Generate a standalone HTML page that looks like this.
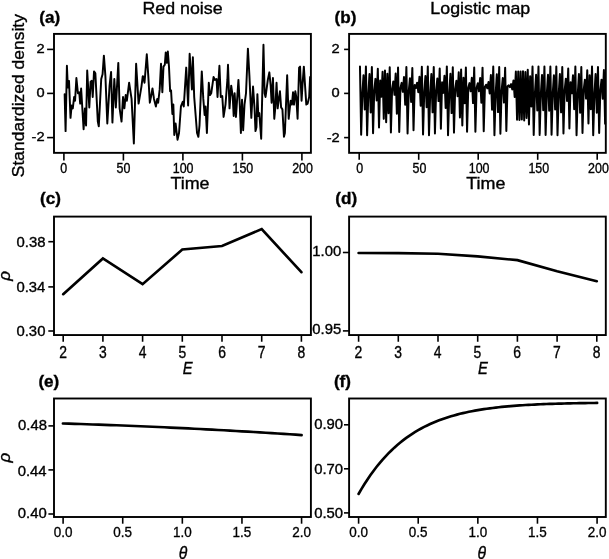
<!DOCTYPE html>
<html><head><meta charset="utf-8"><title>Figure</title>
<style>html,body{margin:0;padding:0;background:#fff}svg{display:block}text{fill:#000;stroke:#000;stroke-width:0.35px}</style>
</head><body>
<svg width="609" height="559" viewBox="0 0 609 559">
<rect width="609" height="559" fill="#fff"/>
<rect x="54.0" y="33.9" width="256.90" height="118.95" fill="none" stroke="#000" stroke-width="1.9"/>
<line x1="47.10" y1="49.40" x2="54.0" y2="49.40" stroke="#000" stroke-width="1.6"/>
<text transform="translate(44.60,52.90) scale(1.2,1)" font-size="12.2" text-anchor="end" font-weight="normal" font-style="normal" font-family='"Liberation Sans", sans-serif'>2</text>
<line x1="47.10" y1="93.40" x2="54.0" y2="93.40" stroke="#000" stroke-width="1.6"/>
<text transform="translate(44.60,96.90) scale(1.2,1)" font-size="12.2" text-anchor="end" font-weight="normal" font-style="normal" font-family='"Liberation Sans", sans-serif'>0</text>
<line x1="47.10" y1="137.60" x2="54.0" y2="137.60" stroke="#000" stroke-width="1.6"/>
<text transform="translate(44.60,141.10) scale(1.2,1)" font-size="12.2" text-anchor="end" font-weight="normal" font-style="normal" font-family='"Liberation Sans", sans-serif'>-2</text>
<line x1="63.90" y1="152.85" x2="63.90" y2="160.55" stroke="#000" stroke-width="1.6"/>
<text transform="translate(63.80,172.80) scale(0.884,1)" font-size="14.1" text-anchor="middle" font-weight="normal" font-style="normal" font-family='"Liberation Sans", sans-serif'>0</text>
<line x1="123.40" y1="152.85" x2="123.40" y2="160.55" stroke="#000" stroke-width="1.6"/>
<text transform="translate(123.48,172.80) scale(0.884,1)" font-size="14.1" text-anchor="middle" font-weight="normal" font-style="normal" font-family='"Liberation Sans", sans-serif'>50</text>
<line x1="182.90" y1="152.85" x2="182.90" y2="160.55" stroke="#000" stroke-width="1.6"/>
<text transform="translate(183.16,172.80) scale(0.884,1)" font-size="14.1" text-anchor="middle" font-weight="normal" font-style="normal" font-family='"Liberation Sans", sans-serif'>100</text>
<line x1="242.40" y1="152.85" x2="242.40" y2="160.55" stroke="#000" stroke-width="1.6"/>
<text transform="translate(242.84,172.80) scale(0.884,1)" font-size="14.1" text-anchor="middle" font-weight="normal" font-style="normal" font-family='"Liberation Sans", sans-serif'>150</text>
<line x1="301.90" y1="152.85" x2="301.90" y2="160.55" stroke="#000" stroke-width="1.6"/>
<text transform="translate(302.52,172.80) scale(0.884,1)" font-size="14.1" text-anchor="middle" font-weight="normal" font-style="normal" font-family='"Liberation Sans", sans-serif'>200</text>
<text transform="translate(190.00,188.60) scale(1.14,1)" font-size="15.7" text-anchor="middle" font-weight="normal" font-style="normal" font-family='"Liberation Sans", sans-serif'>Time</text>
<text transform="translate(39.20,23.05) scale(1.02,1)" font-size="16.8" text-anchor="start" font-weight="bold" font-style="normal" font-family='"Liberation Sans", sans-serif'>(a)</text>
<text transform="translate(182.50,13.60) scale(1.12,1)" font-size="15.9" text-anchor="middle" font-weight="normal" font-style="normal" font-family='"Liberation Sans", sans-serif'>Red noise</text>
<polyline points="64.64,94.15 65.58,131.12 66.91,65.70 67.86,87.51 69.00,80.87 70.52,117.85 71.65,105.52 72.79,108.37 74.12,96.99 75.07,100.78 76.39,78.03 77.91,93.20 79.24,92.25 80.19,103.63 81.13,88.46 83.60,129.23 84.93,108.37 86.06,125.43 87.20,70.44 89.29,107.42 90.62,81.82 91.75,80.87 92.70,96.99 94.03,71.39 95.36,73.29 97.82,121.64 98.77,126.38 99.91,104.58 101.23,78.98 102.56,74.24 103.89,55.65 105.41,76.13 107.30,123.54 109.58,85.61 111.09,71.96 112.42,122.59 114.32,78.98 115.84,107.42 118.30,62.86 119.63,108.37 121.52,121.64 123.04,96.99 124.37,108.37 125.70,95.09 126.83,100.78 129.11,82.77 131.57,98.89 133.85,143.45 136.13,63.81 138.59,103.63 141.43,86.56 142.76,76.13 143.00,76.13 144.52,82.77 146.79,54.33 148.31,76.13 149.83,102.68 150.96,96.99 152.48,88.46 154.00,98.89 155.89,106.47 157.22,98.89 158.17,102.68 159.69,89.41 161.01,63.81 162.34,92.25 163.48,66.65 164.81,64.75 165.75,52.43 166.89,62.86 167.84,51.48 168.98,66.65 170.12,91.30 171.06,90.35 172.39,114.06 173.34,104.58 174.29,134.92 175.62,123.54 177.51,139.66 179.03,133.02 180.92,106.47 182.82,101.73 183.77,106.47 186.23,67.60 188.13,105.52 189.65,53.76 191.16,76.13 191.92,89.41 192.87,57.17 194.20,96.99 197.04,133.02 198.37,136.81 199.51,125.43 201.78,71.39 203.30,98.89 204.63,115.01 205.58,106.47 206.90,133.02 208.80,82.77 209.94,95.09 211.26,93.20 213.54,77.08 215.06,79.92 216.57,78.98 217.52,96.99 219.42,65.70 220.75,96.99 222.26,96.04 223.59,116.90 225.49,104.58 227.38,79.92 228.00,64.75 229.52,108.37 231.22,85.61 232.74,96.99 233.69,115.95 234.64,93.20 235.96,116.90 238.43,79.92 239.76,104.58 240.89,133.02 242.03,99.84 243.17,130.18 244.50,104.58 246.01,93.20 247.91,48.64 249.43,76.13 251.32,117.85 253.03,86.56 254.55,108.37 255.50,131.12 256.44,127.33 257.39,94.15 258.34,115.95 259.29,113.11 261.18,138.71 263.46,44.84 264.60,93.20 265.55,96.99 267.82,79.92 269.34,72.34 270.67,85.61 271.61,102.68 272.94,78.03 274.27,118.80 275.41,106.47 276.54,82.77 277.68,108.37 278.82,98.89 279.96,91.30 281.09,107.42 282.42,109.32 283.94,136.81 284.89,133.02 287.16,75.18 288.68,118.80 290.58,100.78 291.90,104.58 293.04,92.25 293.99,104.58 295.32,91.30 296.26,96.99 297.59,118.80 299.11,67.60 300.06,66.65 301.57,100.78 302.52,84.67 303.85,66.65 305.18,87.51 306.31,104.58 307.64,103.63 309.16,96.99 310.11,77.08" fill="none" stroke="#000" stroke-width="1.95" stroke-linejoin="round" stroke-linecap="round"/>
<rect x="349.1" y="33.9" width="256.70" height="118.95" fill="none" stroke="#000" stroke-width="1.9"/>
<line x1="344.10" y1="49.40" x2="349.1" y2="49.40" stroke="#000" stroke-width="1.6"/>
<text transform="translate(339.70,53.40) scale(1.2,1)" font-size="12.2" text-anchor="end" font-weight="normal" font-style="normal" font-family='"Liberation Sans", sans-serif'>2</text>
<line x1="344.10" y1="93.40" x2="349.1" y2="93.40" stroke="#000" stroke-width="1.6"/>
<text transform="translate(339.70,97.40) scale(1.2,1)" font-size="12.2" text-anchor="end" font-weight="normal" font-style="normal" font-family='"Liberation Sans", sans-serif'>0</text>
<line x1="344.10" y1="137.60" x2="349.1" y2="137.60" stroke="#000" stroke-width="1.6"/>
<text transform="translate(339.70,141.60) scale(1.2,1)" font-size="12.2" text-anchor="end" font-weight="normal" font-style="normal" font-family='"Liberation Sans", sans-serif'>-2</text>
<line x1="359.20" y1="152.85" x2="359.20" y2="159.80" stroke="#000" stroke-width="1.6"/>
<text transform="translate(359.70,172.80) scale(0.884,1)" font-size="14.1" text-anchor="middle" font-weight="normal" font-style="normal" font-family='"Liberation Sans", sans-serif'>0</text>
<line x1="418.70" y1="152.85" x2="418.70" y2="159.80" stroke="#000" stroke-width="1.6"/>
<text transform="translate(419.40,172.80) scale(0.884,1)" font-size="14.1" text-anchor="middle" font-weight="normal" font-style="normal" font-family='"Liberation Sans", sans-serif'>50</text>
<line x1="478.20" y1="152.85" x2="478.20" y2="159.80" stroke="#000" stroke-width="1.6"/>
<text transform="translate(479.10,172.80) scale(0.884,1)" font-size="14.1" text-anchor="middle" font-weight="normal" font-style="normal" font-family='"Liberation Sans", sans-serif'>100</text>
<line x1="537.70" y1="152.85" x2="537.70" y2="159.80" stroke="#000" stroke-width="1.6"/>
<text transform="translate(538.80,172.80) scale(0.884,1)" font-size="14.1" text-anchor="middle" font-weight="normal" font-style="normal" font-family='"Liberation Sans", sans-serif'>150</text>
<line x1="597.20" y1="152.85" x2="597.20" y2="159.80" stroke="#000" stroke-width="1.6"/>
<text transform="translate(598.50,172.80) scale(0.884,1)" font-size="14.1" text-anchor="middle" font-weight="normal" font-style="normal" font-family='"Liberation Sans", sans-serif'>200</text>
<text transform="translate(485.80,188.60) scale(1.14,1)" font-size="15.7" text-anchor="middle" font-weight="normal" font-style="normal" font-family='"Liberation Sans", sans-serif'>Time</text>
<text transform="translate(334.50,23.05) scale(1.02,1)" font-size="16.8" text-anchor="start" font-weight="bold" font-style="normal" font-family='"Liberation Sans", sans-serif'>(b)</text>
<text transform="translate(480.30,13.70) scale(1.12,1)" font-size="15.9" text-anchor="middle" font-weight="normal" font-style="normal" font-family='"Liberation Sans", sans-serif'>Logistic map</text>
<polyline points="359.97,66.57 361.16,134.76 362.35,93.41 363.54,75.19 364.73,109.49 365.92,66.42 367.11,135.24 368.30,94.40 369.49,74.07 370.68,112.46 371.87,67.01 373.06,133.33 374.25,90.54 375.44,78.87 376.63,100.47 377.82,68.85 379.01,127.50 380.20,80.56 381.39,96.69 382.58,71.76 383.77,118.85 384.96,70.61 386.15,122.19 387.34,73.76 388.53,113.28 389.72,67.29 390.91,132.41 392.10,88.79 393.29,81.44 394.48,94.82 395.67,73.61 396.86,113.68 398.05,67.45 399.24,131.91 400.43,87.87 401.62,82.88 402.81,91.85 404.00,77.11 405.19,104.67 406.38,66.93 407.57,133.57 408.76,91.03 409.95,78.20 411.14,102.03 412.33,67.98 413.52,130.23 414.71,84.91 415.90,87.97 417.09,82.72 418.28,92.17 419.47,76.69 420.66,105.68 421.85,66.67 423.04,134.41 424.23,92.70 425.42,76.04 426.61,107.32 427.80,66.43 428.99,135.22 430.18,94.36 431.37,74.10 432.56,112.36 433.75,66.98 434.94,133.43 436.13,90.74 437.32,78.60 438.51,101.11 439.70,68.47 440.89,128.68 442.08,82.37 443.27,92.88 444.46,75.81 445.65,107.89 446.84,66.39 448.03,135.34 449.22,94.62 450.41,73.83 451.60,113.10 452.79,67.23 453.98,132.62 455.17,89.20 456.36,80.81 457.55,96.14 458.74,72.27 459.93,117.39 461.12,69.50 462.31,125.51 463.50,77.74 464.69,103.13 465.88,67.48 467.07,131.82 468.26,87.71 469.45,83.13 470.64,91.36 471.83,77.75 473.02,103.12 474.21,67.48 475.40,131.81 476.59,87.68 477.78,83.19 478.97,91.25 480.16,77.90 481.35,102.75 482.54,67.64 483.73,131.30 484.92,86.77 486.11,84.69 487.30,88.37 488.49,82.08 489.68,93.47 490.87,75.12 492.06,109.68 493.25,66.44 494.44,135.18 495.63,94.28 496.82,74.20 498.01,112.11 499.20,66.91 500.39,133.66 501.58,91.20 502.77,77.97 503.96,102.59 505.15,67.71 506.34,131.07 507.53,86.37 508.72,85.38 509.91,87.12 511.10,84.10 512.29,89.48 513.48,80.40 514.67,97.04 515.86,71.44 517.05,119.77 518.24,71.39 519.43,119.93 520.62,71.53 521.81,119.52 523.00,71.17 524.19,120.55 525.38,72.10 526.57,117.88 527.76,69.86 528.95,124.44 530.14,76.36 531.33,106.51 532.52,66.52 533.71,134.91 534.90,93.71 536.09,74.84 537.28,110.40 538.47,66.53 539.66,134.89 540.85,93.67 542.04,74.88 543.23,110.29 544.42,66.51 545.61,134.94 546.80,93.78 547.99,74.76 549.18,110.63 550.37,66.57 551.56,134.77 552.75,93.42 553.94,75.17 555.13,109.54 556.32,66.43 557.51,135.22 558.70,94.37 559.89,74.10 561.08,112.37 562.27,66.98 563.46,133.41 564.65,90.71 565.84,78.63 567.03,101.03 568.22,68.52 569.41,128.54 570.60,82.14 571.79,93.34 572.98,75.27 574.17,109.30 575.36,66.41 576.55,135.29 577.74,94.50 578.93,73.96 580.12,112.75 581.31,67.10 582.50,133.02 583.69,89.96 584.88,79.70 586.07,98.59 587.26,70.16 588.45,123.53 589.64,75.26 590.83,109.32 592.02,66.41 593.21,135.28 594.40,94.49 595.59,73.97 596.78,112.73 597.97,67.10 599.16,133.04 600.35,90.00 601.54,79.64 602.73,98.72 603.92,70.06 605.11,123.82" fill="none" stroke="#000" stroke-width="2.0" stroke-linejoin="round" stroke-linecap="round"/>
<text transform="translate(24.20,95.60) rotate(-90) scale(1.053,1)" font-size="16.6" text-anchor="middle" font-weight="normal" font-style="normal" font-family='"Liberation Sans", sans-serif'>Standardized density</text>
<rect x="54.0" y="216.6" width="256.90" height="118.45" fill="none" stroke="#000" stroke-width="1.9"/>
<line x1="48.30" y1="241.70" x2="54.0" y2="241.70" stroke="#000" stroke-width="1.6"/>
<text transform="translate(45.50,246.80) scale(1.07,1)" font-size="13.9" text-anchor="end" font-weight="normal" font-style="normal" font-family='"Liberation Sans", sans-serif'>0.38</text>
<line x1="48.30" y1="286.90" x2="54.0" y2="286.90" stroke="#000" stroke-width="1.6"/>
<text transform="translate(45.30,291.90) scale(1.07,1)" font-size="13.9" text-anchor="end" font-weight="normal" font-style="normal" font-family='"Liberation Sans", sans-serif'>0.34</text>
<line x1="48.30" y1="331.00" x2="54.0" y2="331.00" stroke="#000" stroke-width="1.6"/>
<text transform="translate(45.40,336.00) scale(1.07,1)" font-size="13.9" text-anchor="end" font-weight="normal" font-style="normal" font-family='"Liberation Sans", sans-serif'>0.30</text>
<line x1="63.20" y1="335.05" x2="63.20" y2="341.75" stroke="#000" stroke-width="1.6"/>
<text transform="translate(63.20,357.60) scale(0.88,1)" font-size="15.8" text-anchor="middle" font-weight="normal" font-style="normal" font-family='"Liberation Sans", sans-serif'>2</text>
<line x1="102.90" y1="335.05" x2="102.90" y2="341.75" stroke="#000" stroke-width="1.6"/>
<text transform="translate(102.90,357.60) scale(0.88,1)" font-size="15.8" text-anchor="middle" font-weight="normal" font-style="normal" font-family='"Liberation Sans", sans-serif'>3</text>
<line x1="142.60" y1="335.05" x2="142.60" y2="341.75" stroke="#000" stroke-width="1.6"/>
<text transform="translate(142.60,357.60) scale(0.88,1)" font-size="15.8" text-anchor="middle" font-weight="normal" font-style="normal" font-family='"Liberation Sans", sans-serif'>4</text>
<line x1="182.30" y1="335.05" x2="182.30" y2="341.75" stroke="#000" stroke-width="1.6"/>
<text transform="translate(182.30,357.60) scale(0.88,1)" font-size="15.8" text-anchor="middle" font-weight="normal" font-style="normal" font-family='"Liberation Sans", sans-serif'>5</text>
<line x1="222.00" y1="335.05" x2="222.00" y2="341.75" stroke="#000" stroke-width="1.6"/>
<text transform="translate(222.00,357.60) scale(0.88,1)" font-size="15.8" text-anchor="middle" font-weight="normal" font-style="normal" font-family='"Liberation Sans", sans-serif'>6</text>
<line x1="261.70" y1="335.05" x2="261.70" y2="341.75" stroke="#000" stroke-width="1.6"/>
<text transform="translate(261.70,357.60) scale(0.88,1)" font-size="15.8" text-anchor="middle" font-weight="normal" font-style="normal" font-family='"Liberation Sans", sans-serif'>7</text>
<line x1="301.40" y1="335.05" x2="301.40" y2="341.75" stroke="#000" stroke-width="1.6"/>
<text transform="translate(301.40,357.60) scale(0.88,1)" font-size="15.8" text-anchor="middle" font-weight="normal" font-style="normal" font-family='"Liberation Sans", sans-serif'>8</text>
<text transform="translate(40.00,203.50) scale(1.02,1)" font-size="16.8" text-anchor="start" font-weight="bold" font-style="normal" font-family='"Liberation Sans", sans-serif'>(c)</text>
<polyline points="63.20,294.22 102.90,258.46 142.60,284.16 182.30,249.52 222.00,245.95 261.70,229.07 301.40,272.21" fill="none" stroke="#000" stroke-width="2.65" stroke-linejoin="miter" stroke-linecap="round"/>
<rect x="349.1" y="216.6" width="256.70" height="118.45" fill="none" stroke="#000" stroke-width="1.9"/>
<line x1="342.90" y1="252.50" x2="349.1" y2="252.50" stroke="#000" stroke-width="1.6"/>
<text transform="translate(341.20,256.30) scale(1.07,1)" font-size="13.9" text-anchor="end" font-weight="normal" font-style="normal" font-family='"Liberation Sans", sans-serif'>1.00</text>
<line x1="342.90" y1="330.90" x2="349.1" y2="330.90" stroke="#000" stroke-width="1.6"/>
<text transform="translate(341.20,334.40) scale(1.07,1)" font-size="13.9" text-anchor="end" font-weight="normal" font-style="normal" font-family='"Liberation Sans", sans-serif'>0.95</text>
<line x1="358.60" y1="335.05" x2="358.60" y2="341.75" stroke="#000" stroke-width="1.6"/>
<text transform="translate(358.30,357.60) scale(0.88,1)" font-size="15.8" text-anchor="middle" font-weight="normal" font-style="normal" font-family='"Liberation Sans", sans-serif'>2</text>
<line x1="398.30" y1="335.05" x2="398.30" y2="341.75" stroke="#000" stroke-width="1.6"/>
<text transform="translate(398.00,357.60) scale(0.88,1)" font-size="15.8" text-anchor="middle" font-weight="normal" font-style="normal" font-family='"Liberation Sans", sans-serif'>3</text>
<line x1="438.00" y1="335.05" x2="438.00" y2="341.75" stroke="#000" stroke-width="1.6"/>
<text transform="translate(437.70,357.60) scale(0.88,1)" font-size="15.8" text-anchor="middle" font-weight="normal" font-style="normal" font-family='"Liberation Sans", sans-serif'>4</text>
<line x1="477.70" y1="335.05" x2="477.70" y2="341.75" stroke="#000" stroke-width="1.6"/>
<text transform="translate(477.40,357.60) scale(0.88,1)" font-size="15.8" text-anchor="middle" font-weight="normal" font-style="normal" font-family='"Liberation Sans", sans-serif'>5</text>
<line x1="517.40" y1="335.05" x2="517.40" y2="341.75" stroke="#000" stroke-width="1.6"/>
<text transform="translate(517.10,357.60) scale(0.88,1)" font-size="15.8" text-anchor="middle" font-weight="normal" font-style="normal" font-family='"Liberation Sans", sans-serif'>6</text>
<line x1="557.10" y1="335.05" x2="557.10" y2="341.75" stroke="#000" stroke-width="1.6"/>
<text transform="translate(556.80,357.60) scale(0.88,1)" font-size="15.8" text-anchor="middle" font-weight="normal" font-style="normal" font-family='"Liberation Sans", sans-serif'>7</text>
<line x1="596.80" y1="335.05" x2="596.80" y2="341.75" stroke="#000" stroke-width="1.6"/>
<text transform="translate(596.50,357.60) scale(0.88,1)" font-size="15.8" text-anchor="middle" font-weight="normal" font-style="normal" font-family='"Liberation Sans", sans-serif'>8</text>
<text transform="translate(335.30,203.50) scale(1.02,1)" font-size="16.8" text-anchor="start" font-weight="bold" font-style="normal" font-family='"Liberation Sans", sans-serif'>(d)</text>
<polyline points="358.60,252.97 398.30,253.13 438.00,253.75 477.70,256.42 517.40,260.18 557.10,271.32 596.80,281.19" fill="none" stroke="#000" stroke-width="2.65" stroke-linejoin="miter" stroke-linecap="round"/>
<text transform="translate(187.60,373.60) scale(0.93,1)" font-size="15.9" text-anchor="middle" font-weight="normal" font-style="italic" font-family='"Liberation Sans", sans-serif'>E</text>
<text transform="translate(482.80,373.60) scale(0.93,1)" font-size="15.9" text-anchor="middle" font-weight="normal" font-style="italic" font-family='"Liberation Sans", sans-serif'>E</text>
<text transform="translate(9.60,275.80) rotate(-90)" font-size="17" text-anchor="middle" font-weight="normal" font-style="italic" font-family='"Liberation Sans", sans-serif'>ρ</text>
<rect x="54.0" y="398.5" width="256.90" height="118.50" fill="none" stroke="#000" stroke-width="1.9"/>
<line x1="48.40" y1="425.90" x2="54.0" y2="425.90" stroke="#000" stroke-width="1.6"/>
<text transform="translate(47.00,429.70) scale(1.07,1)" font-size="13.9" text-anchor="end" font-weight="normal" font-style="normal" font-family='"Liberation Sans", sans-serif'>0.48</text>
<line x1="48.40" y1="469.90" x2="54.0" y2="469.90" stroke="#000" stroke-width="1.6"/>
<text transform="translate(46.60,475.50) scale(1.07,1)" font-size="13.9" text-anchor="end" font-weight="normal" font-style="normal" font-family='"Liberation Sans", sans-serif'>0.44</text>
<line x1="48.40" y1="514.00" x2="54.0" y2="514.00" stroke="#000" stroke-width="1.6"/>
<text transform="translate(46.70,517.70) scale(1.07,1)" font-size="13.9" text-anchor="end" font-weight="normal" font-style="normal" font-family='"Liberation Sans", sans-serif'>0.40</text>
<line x1="63.10" y1="517.0" x2="63.10" y2="523.70" stroke="#000" stroke-width="1.6"/>
<text transform="translate(63.10,537.30) scale(0.88,1)" font-size="15.3" text-anchor="middle" font-weight="normal" font-style="normal" font-family='"Liberation Sans", sans-serif'>0.0</text>
<line x1="122.72" y1="517.0" x2="122.72" y2="523.70" stroke="#000" stroke-width="1.6"/>
<text transform="translate(122.72,537.30) scale(0.88,1)" font-size="15.3" text-anchor="middle" font-weight="normal" font-style="normal" font-family='"Liberation Sans", sans-serif'>0.5</text>
<line x1="182.34" y1="517.0" x2="182.34" y2="523.70" stroke="#000" stroke-width="1.6"/>
<text transform="translate(182.34,537.30) scale(0.88,1)" font-size="15.3" text-anchor="middle" font-weight="normal" font-style="normal" font-family='"Liberation Sans", sans-serif'>1.0</text>
<line x1="241.96" y1="517.0" x2="241.96" y2="523.70" stroke="#000" stroke-width="1.6"/>
<text transform="translate(241.96,537.30) scale(0.88,1)" font-size="15.3" text-anchor="middle" font-weight="normal" font-style="normal" font-family='"Liberation Sans", sans-serif'>1.5</text>
<line x1="301.58" y1="517.0" x2="301.58" y2="523.70" stroke="#000" stroke-width="1.6"/>
<text transform="translate(301.58,537.30) scale(0.88,1)" font-size="15.3" text-anchor="middle" font-weight="normal" font-style="normal" font-family='"Liberation Sans", sans-serif'>2.0</text>
<text transform="translate(38.40,387.00) scale(1.02,1)" font-size="16.8" text-anchor="start" font-weight="bold" font-style="normal" font-family='"Liberation Sans", sans-serif'>(e)</text>
<polyline points="62.90,423.50 68.87,423.68 74.83,423.86 80.80,424.05 86.77,424.24 92.74,424.45 98.70,424.65 104.67,424.86 110.64,425.08 116.61,425.30 122.57,425.53 128.54,425.77 134.51,426.01 140.48,426.26 146.44,426.51 152.41,426.77 158.38,427.03 164.35,427.30 170.31,427.57 176.28,427.85 182.25,428.14 188.22,428.43 194.19,428.73 200.15,429.03 206.12,429.34 212.09,429.66 218.06,429.98 224.02,430.30 229.99,430.64 235.96,430.97 241.93,431.32 247.89,431.67 253.86,432.02 259.83,432.38 265.79,432.75 271.76,433.12 277.73,433.50 283.70,433.88 289.67,434.27 295.63,434.67 301.60,435.07" fill="none" stroke="#000" stroke-width="2.65" stroke-linejoin="miter" stroke-linecap="round"/>
<rect x="349.1" y="398.5" width="256.70" height="118.50" fill="none" stroke="#000" stroke-width="1.9"/>
<line x1="344.00" y1="424.80" x2="349.1" y2="424.80" stroke="#000" stroke-width="1.6"/>
<text transform="translate(343.10,429.30) scale(1.07,1)" font-size="13.9" text-anchor="end" font-weight="normal" font-style="normal" font-family='"Liberation Sans", sans-serif'>0.90</text>
<line x1="344.00" y1="468.80" x2="349.1" y2="468.80" stroke="#000" stroke-width="1.6"/>
<text transform="translate(343.10,474.00) scale(1.07,1)" font-size="13.9" text-anchor="end" font-weight="normal" font-style="normal" font-family='"Liberation Sans", sans-serif'>0.70</text>
<line x1="344.00" y1="512.90" x2="349.1" y2="512.90" stroke="#000" stroke-width="1.6"/>
<text transform="translate(343.10,517.70) scale(1.07,1)" font-size="13.9" text-anchor="end" font-weight="normal" font-style="normal" font-family='"Liberation Sans", sans-serif'>0.50</text>
<line x1="358.60" y1="517.0" x2="358.60" y2="523.70" stroke="#000" stroke-width="1.6"/>
<text transform="translate(358.60,537.30) scale(0.88,1)" font-size="15.3" text-anchor="middle" font-weight="normal" font-style="normal" font-family='"Liberation Sans", sans-serif'>0.0</text>
<line x1="418.22" y1="517.0" x2="418.22" y2="523.70" stroke="#000" stroke-width="1.6"/>
<text transform="translate(418.22,537.30) scale(0.88,1)" font-size="15.3" text-anchor="middle" font-weight="normal" font-style="normal" font-family='"Liberation Sans", sans-serif'>0.5</text>
<line x1="477.84" y1="517.0" x2="477.84" y2="523.70" stroke="#000" stroke-width="1.6"/>
<text transform="translate(477.84,537.30) scale(0.88,1)" font-size="15.3" text-anchor="middle" font-weight="normal" font-style="normal" font-family='"Liberation Sans", sans-serif'>1.0</text>
<line x1="537.46" y1="517.0" x2="537.46" y2="523.70" stroke="#000" stroke-width="1.6"/>
<text transform="translate(537.46,537.30) scale(0.88,1)" font-size="15.3" text-anchor="middle" font-weight="normal" font-style="normal" font-family='"Liberation Sans", sans-serif'>1.5</text>
<line x1="597.08" y1="517.0" x2="597.08" y2="523.70" stroke="#000" stroke-width="1.6"/>
<text transform="translate(597.08,537.30) scale(0.88,1)" font-size="15.3" text-anchor="middle" font-weight="normal" font-style="normal" font-family='"Liberation Sans", sans-serif'>2.0</text>
<text transform="translate(333.90,387.00) scale(1.02,1)" font-size="16.8" text-anchor="start" font-weight="bold" font-style="normal" font-family='"Liberation Sans", sans-serif'>(f)</text>
<polyline points="358.55,493.97 361.53,488.85 364.51,484.00 367.50,479.41 370.48,475.06 373.46,470.93 376.44,467.03 379.43,463.33 382.41,459.84 385.39,456.53 388.38,453.40 391.36,450.44 394.34,447.64 397.32,445.00 400.31,442.50 403.29,440.14 406.27,437.91 409.25,435.80 412.24,433.82 415.22,431.94 418.20,430.17 421.18,428.50 424.17,426.93 427.15,425.44 430.13,424.04 433.11,422.72 436.10,421.48 439.08,420.31 442.06,419.21 445.04,418.17 448.02,417.20 451.01,416.28 453.99,415.41 456.97,414.60 459.96,413.83 462.94,413.12 465.92,412.44 468.90,411.81 471.88,411.21 474.87,410.65 477.85,410.12 480.83,409.63 483.81,409.17 486.80,408.73 489.78,408.33 492.76,407.94 495.75,407.59 498.73,407.25 501.71,406.94 504.69,406.64 507.68,406.36 510.66,406.11 513.64,405.86 516.62,405.64 519.61,405.43 522.59,405.23 525.57,405.04 528.55,404.87 531.53,404.71 534.52,404.56 537.50,404.41 540.48,404.28 543.47,404.16 546.45,404.04 549.43,403.94 552.41,403.83 555.39,403.74 558.38,403.65 561.36,403.57 564.34,403.50 567.33,403.43 570.31,403.36 573.29,403.30 576.27,403.24 579.25,403.19 582.24,403.14 585.22,403.09 588.20,403.05 591.18,403.01 594.17,402.97 597.15,402.94" fill="none" stroke="#000" stroke-width="2.65" stroke-linejoin="miter" stroke-linecap="round"/>
<text transform="translate(183.10,559.10) scale(0.9,1)" font-size="17.5" text-anchor="middle" font-weight="normal" font-style="italic" font-family='"Liberation Sans", sans-serif'>θ</text>
<text transform="translate(481.80,559.10) scale(0.9,1)" font-size="17.5" text-anchor="middle" font-weight="normal" font-style="italic" font-family='"Liberation Sans", sans-serif'>θ</text>
<text transform="translate(9.60,457.50) rotate(-90)" font-size="17" text-anchor="middle" font-weight="normal" font-style="italic" font-family='"Liberation Sans", sans-serif'>ρ</text>
</svg>
</body></html>
